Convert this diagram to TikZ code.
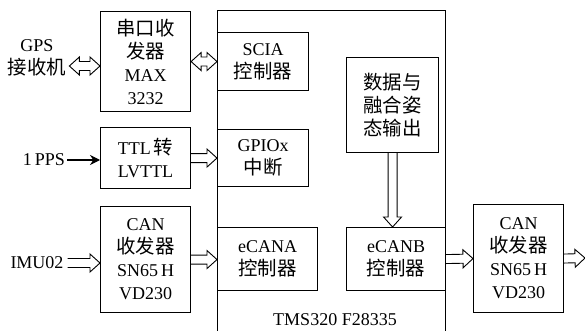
\documentclass[tikz,border=0pt]{standalone}
\usepackage{fontspec}
\setmainfont{Liberation Serif}
\newfontfamily\cjk[Scale=1.08]{Noto Sans CJK SC}
\usetikzlibrary{arrows.meta,positioning,calc}

\begin{document}
\begin{tikzpicture}[x=1pt,y=-1pt,
  every node/.style={font=\fontsize{18}{23}\selectfont,align=center,inner sep=0pt},
  blk/.style={draw,line width=1.1pt,anchor=north west},
  % hollow block arrow, one head
  harrow/.style={line width=0.9pt,line join=miter,to path={let \p1=($(\tikztotarget)!10pt!(\tikztostart)$) in
    ($(\tikztostart)!4.5pt!90:(\tikztotarget)$) -- ($(\p1)!4.5pt!90:(\tikztotarget)$) -- ($(\p1)!9pt!90:(\tikztotarget)$)
    -- (\tikztotarget) -- ($(\p1)!9pt!-90:(\tikztotarget)$) -- ($(\p1)!4.5pt!-90:(\tikztotarget)$)
    -- ($(\tikztostart)!4.5pt!-90:(\tikztotarget)$)}},
  % hollow block arrow, two heads
  hboth/.style={line width=0.9pt,line join=miter,to path={let \p1=($(\tikztotarget)!10pt!(\tikztostart)$),
    \p2=($(\tikztostart)!10pt!(\tikztotarget)$) in
    (\tikztostart) -- ($(\p2)!9pt!90:(\tikztotarget)$) -- ($(\p2)!4.5pt!90:(\tikztotarget)$)
    -- ($(\p1)!4.5pt!90:(\tikztotarget)$) -- ($(\p1)!9pt!90:(\tikztotarget)$) -- (\tikztotarget)
    -- ($(\p1)!9pt!-90:(\tikztotarget)$) -- ($(\p1)!4.5pt!-90:(\tikztotarget)$)
    -- ($(\p2)!4.5pt!-90:(\tikztotarget)$) -- ($(\p2)!9pt!-90:(\tikztotarget)$) -- cycle}},
  sol/.style={line width=1.1pt,-{Stealth[length=10pt,width=10pt]}}]
\useasboundingbox (0,0) rectangle (585,331);
% DSP
\node[blk,minimum width=228pt,minimum height=340pt] (tms) at (217,10) {};
\node (tmslbl) at (335,320) {TMS320 F28335};
\node[blk,minimum width=91pt,minimum height=58pt] (sci) at (217,32) {SCIA\\{\cjk 控制器}};
\node[blk,minimum width=91pt,minimum height=57pt] (gpio) at (217,129) {GPIOx\\{\cjk 中断}};
\node[blk,minimum width=100pt,minimum height=63pt] (ecana) at (217,227) {eCANA\\{\cjk 控制器}};
\node[blk,minimum width=92pt,minimum height=95pt] (fuse) at (346,57) {{\cjk 数据与}\\{\cjk 融合姿}\\{\cjk 态输出}};
\node[blk,minimum width=99pt,minimum height=63pt] (ecanb) at (346,227) {eCANB\\{\cjk 控制器}};
% interface chips
\node[blk,minimum width=90pt,minimum height=100pt] (mux) at (100,11) {{\cjk 串口收}\\{\cjk 发器}\\MAX\\3232};
\node[blk,minimum width=90pt,minimum height=61pt] (ttl) at (100,127) {TTL\,{\cjk 转}\\LVTTL};
\node[blk,minimum width=90pt,minimum height=106pt] (canl) at (100,206) {CAN\\{\cjk 收发器}\\SN65\,H\\VD230};
\node[blk,minimum width=90pt,minimum height=108pt] (canr) at (473,204) {CAN\\{\cjk 收发器}\\SN65\,H\\VD230};
% external signals
\node (gps) at (37,58) {GPS\\{\cjk 接收机}};
\node (pps) at (44,160) {1\,PPS};
\node (imu) at (37,263) {IMU02};
\coordinate (outp) at (585,258);

\draw[hboth] ([xshift=3pt,yshift=-8pt]gps.east) to ([yshift=-8pt]gps.east -| mux.west);
\draw[hboth] (mux.east) to (mux.east -| sci.west);
\draw[sol] ([xshift=2pt]pps.east) -- (pps.east -| ttl.west);
\draw[harrow] (ttl.east) to (ttl.east -| gpio.west);
\draw[harrow] ([xshift=4pt]imu.east) to (imu.east -| canl.west);
\draw[harrow] (canl.east) to (canl.east -| ecana.west);
\draw[harrow] (fuse.south) to (fuse.south |- ecanb.north);
\draw[harrow] (ecanb.east) to (canr.west);
\draw[harrow] (canr.east) to (outp);
\end{tikzpicture}
\end{document}
